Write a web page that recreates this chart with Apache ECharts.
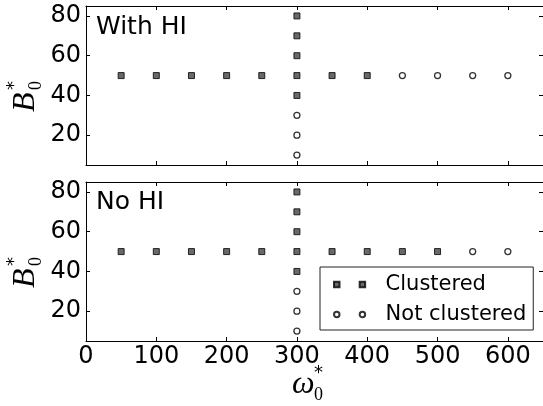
<!DOCTYPE html>
<html><head><meta charset="utf-8">
<script src="https://cdn.jsdelivr.net/npm/echarts@6/dist/echarts.min.js"></script>
<style>html,body{margin:0;padding:0;background:#fff}#c{width:543px;height:406px}</style>
</head><body><div id="c"></div>
<script>
// ---- data ----
const panelTitles = ['With HI', 'No HI'];
const seriesNames = ['Clustered', 'Not clustered'];
const xTicks = [0, 100, 200, 300, 400, 500, 600];
const yTicks = [20, 40, 60, 80];
const withHIClustered = [[50,50],[100,50],[150,50],[200,50],[250,50],[300,50],[350,50],[400,50],[300,40],[300,60],[300,70],[300,80]];
const withHINotClustered = [[450,50],[500,50],[550,50],[600,50],[300,30],[300,20],[300,10]];
const noHIClustered = [[50,50],[100,50],[150,50],[200,50],[250,50],[300,50],[350,50],[400,50],[450,50],[500,50],[300,40],[300,60],[300,70],[300,80]];
const noHINotClustered = [[550,50],[600,50],[300,30],[300,20],[300,10]];

const FONT = 'DejaVu Sans';
const xMin = 0, xMax = 650, yMin = 5, yMax = 85;

function xAx(grid, pos, labels) {
  return {
    type: 'value', gridIndex: grid, position: pos, min: xMin, max: xMax,
    splitLine: {show: false},
    axisLine: {show: true, onZero: false, lineStyle: {color: '#000', width: 1}},
    axisTick: {show: true, inside: true, length: 4, customValues: xTicks, lineStyle: {color: '#000'}},
    axisLabel: {show: labels, customValues: xTicks, color: '#000', fontSize: 24, fontFamily: FONT, margin: 4}
  };
}
function yAx(grid, pos, labels) {
  return {
    type: 'value', gridIndex: grid, position: pos, min: yMin, max: yMax,
    splitLine: {show: false},
    axisLine: {show: true, onZero: false, lineStyle: {color: '#000', width: 1}},
    axisTick: {show: true, inside: true, length: 4, customValues: yTicks, lineStyle: {color: '#000'}},
    axisLabel: {show: labels, customValues: yTicks, color: '#000', fontSize: 24, fontFamily: FONT, margin: 5}
  };
}
const sqStyle = {color: '#444', borderColor: '#000', borderWidth: 1};
const ciStyle = {color: '#fff', borderColor: '#000', borderWidth: 1.3};
function sc(name, xi, yi, data, sym) {
  return {
    name: name, type: 'scatter', xAxisIndex: xi, yAxisIndex: yi, data: data,
    symbol: sym === 'sq' ? 'rect' : 'circle', symbolSize: 6,
    itemStyle: sym === 'sq' ? sqStyle : ciStyle, emphasis: {disabled: true}, silent: true
  };
}
function mathLabel(x, y, base, rot, baseFont) {
  return {
    type: 'group', x: x, y: y, rotation: rot, silent: true,
    children: [
      {type: 'text', x: -14, y: 0, style: {text: base, font: 'italic ' + baseFont + 'px "Liberation Serif"', fill: '#000', textAlign: 'left', textVerticalAlign: 'middle'}},
      {type: 'text', x: 8, y: 10, style: {text: '0', font: '18px "Liberation Serif"', fill: '#000', textAlign: 'left', textVerticalAlign: 'middle'}},
      {type: 'text', x: 8, y: -12, style: {text: '*', font: '18px "DejaVu Sans"', fill: '#000', textAlign: 'left', textVerticalAlign: 'middle'}}
    ]
  };
}

const chart = echarts.init(document.getElementById('c'), null, {renderer: 'canvas'});
chart.setOption({
  animation: false,
  backgroundColor: '#fff',
  grid: [
    {left: 86, right: -3, top: 6, height: 159},
    {left: 86, right: -3, top: 182, height: 159}
  ],
  xAxis: [xAx(0, 'bottom', false), xAx(0, 'top', false), xAx(1, 'bottom', true), xAx(1, 'top', false)],
  yAxis: [yAx(0, 'left', true), yAx(0, 'right', false), yAx(1, 'left', true), yAx(1, 'right', false)],
  legend: {
    left: 320, top: 267, orient: 'vertical', itemGap: 9,
    padding: [7, 7, 5, 13], borderColor: '#222', borderWidth: 1, backgroundColor: '#fff',
    itemWidth: 34, itemHeight: 5.5, selectedMode: false,
    textStyle: {fontSize: 21, fontFamily: FONT, color: '#000', padding: [0, 0, 0, 14]},
    data: [
      {name: seriesNames[0], icon: 'path://M0,0h6v6h-6z M28,0h6v6h-6z'},
      {name: seriesNames[1], icon: 'path://M0,3a3,3 0 1,0 6,0a3,3 0 1,0 -6,0z M28,3a3,3 0 1,0 6,0a3,3 0 1,0 -6,0z'}
    ]
  },
  graphic: [
    {type: 'text', left: 96, top: 15, silent: true, style: {text: panelTitles[0], font: '25px "DejaVu Sans"', fill: '#000'}},
    {type: 'text', left: 96, top: 190, silent: true, style: {text: panelTitles[1], font: '25px "DejaVu Sans"', fill: '#000'}},
    mathLabel(26, 98, 'B', Math.PI / 2, 32),
    mathLabel(26, 274, 'B', Math.PI / 2, 32),
    mathLabel(306, 385, 'ω', 0, 32)
  ],
  series: [
    sc(seriesNames[0], 0, 0, withHIClustered, 'sq'),
    sc(seriesNames[1], 0, 0, withHINotClustered, 'ci'),
    sc(seriesNames[0], 2, 2, noHIClustered, 'sq'),
    sc(seriesNames[1], 2, 2, noHINotClustered, 'ci')
  ]
});
</script></body></html>
